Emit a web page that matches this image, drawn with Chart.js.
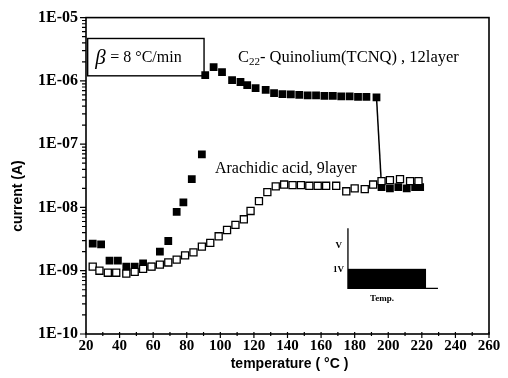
<!DOCTYPE html>
<html>
<head>
<meta charset="utf-8">
<script src="https://cdn.jsdelivr.net/npm/chart.js@4.4.0/dist/chart.umd.min.js"></script>
<style>
  html, body { margin: 0; padding: 0; background: #fff; }
  canvas { display: block; }
</style>
</head>
<body>
<canvas id="grafico" width="508" height="378"></canvas>
<script>
// ===========================
// DATOS
// ===========================
const tempAcido = [24, 28, 33, 38, 44, 49, 54, 59, 64, 69, 74, 79, 84, 89, 94, 99, 104, 109, 114, 118,
  123, 128, 133, 138, 143, 148, 153, 158, 163, 169, 175, 180, 186, 191, 196, 201, 207, 213, 218];
const corrienteAcido = [1.16e-9, 1.0e-9, 9.3e-10, 9.3e-10, 9.0e-10, 9.6e-10, 1.07e-9, 1.16e-9, 1.25e-9, 1.35e-9,
  1.5e-9, 1.75e-9, 1.95e-9, 2.4e-9, 2.75e-9, 3.5e-9, 4.4e-9, 5.3e-9, 6.5e-9, 8.8e-9,
  1.26e-8, 1.75e-8, 2.15e-8, 2.3e-8, 2.25e-8, 2.25e-8, 2.2e-8, 2.2e-8, 2.2e-8, 2.2e-8,
  1.8e-8, 2.0e-8, 1.95e-8, 2.3e-8, 2.6e-8, 2.7e-8, 2.8e-8, 2.6e-8, 2.6e-8];

const tempQuinolio = [24, 29, 34, 39, 44, 49, 54, 59, 64, 69, 74, 78, 83, 89,
  91, 96, 101, 107, 112, 116, 121, 127, 132, 137, 142, 147, 152, 157, 162, 167, 172, 177, 182, 187, 193,
  196, 201, 206, 211, 216, 219];
const corrienteQuinolio = [2.67e-9, 2.6e-9, 1.44e-9, 1.44e-9, 1.16e-9, 1.16e-9, 1.3e-9, 1.16e-9, 2.0e-9, 2.95e-9,
  8.5e-9, 1.2e-8, 2.8e-8, 6.9e-8,
  1.23e-6, 1.65e-6, 1.37e-6, 1.03e-6, 9.6e-7, 8.6e-7, 7.7e-7, 7.2e-7, 6.4e-7, 6.2e-7, 6.1e-7,
  6.0e-7, 5.9e-7, 5.9e-7, 5.8e-7, 5.8e-7, 5.7e-7, 5.7e-7, 5.6e-7, 5.6e-7, 5.5e-7,
  2.1e-8, 2.0e-8, 2.1e-8, 2.0e-8, 2.1e-8, 2.1e-8];

const ticksTemp = [20, 40, 60, 80, 100, 120, 140, 160, 180, 200, 220, 240, 260];
const decadasCorriente = [-10, -9, -8, -7, -6, -5];

// anotaciones (en unidades de datos)
const notas = {
  caja: { x0: 21, x1: 90.3, y0: -5.33, y1: -5.92 },
  beta: { x: 25.5, y: -5.64 },
  quinolio: { x: 110.5, y: -5.64 },
  acido: { x: 96.8, y: -7.39 },
  inserto: { x0: 176, x1: 222.5, x2: 229.6, yTop: -8.33, yV: -8.97, yBase: -9.28 }
};

const serif = "'Liberation Serif', 'Times New Roman', serif";
const sans = "'Liberation Sans', Arial, sans-serif";

// ===========================
// DECORACION: marco, ticks, textos
// ===========================
const decoracion = {
  id: "decoracion",
  afterDraw(chart) {
    const { ctx, chartArea: a, scales: { x, y } } = chart;
    const px = t => x.getPixelForValue(t);
    const py = e => y.getPixelForValue(Math.pow(10, e));

    ctx.save();
    ctx.strokeStyle = "#000";
    ctx.fillStyle = "#000";

    // marco
    ctx.lineWidth = 1.6;
    ctx.strokeRect(a.left, a.top, a.right - a.left, a.bottom - a.top);

    // ticks eje y (mayores y menores)
    ctx.lineWidth = 1.2;
    ctx.beginPath();
    decadasCorriente.forEach(e => {
      for (let m = 1; m <= 9; m++) {
        if (e === -5 && m > 1) break;
        const yy = y.getPixelForValue(m * Math.pow(10, e));
        const len = m === 1 ? 6 : 4;
        ctx.moveTo(a.left - len, yy);
        ctx.lineTo(a.left, yy);
      }
    });
    // ticks eje x
    for (let t = 20; t <= 260; t += 10) {
      const xx = px(t);
      const len = t % 20 === 0 ? 4 : 2;
      ctx.moveTo(xx, a.bottom + len);
      ctx.lineTo(xx, a.bottom - 2);
    }
    ctx.stroke();

    // caja beta
    const c = notas.caja;
    ctx.lineWidth = 1.4;
    ctx.strokeRect(px(c.x0), py(c.y0), px(c.x1) - px(c.x0), py(c.y1) - py(c.y0));
    ctx.textBaseline = "middle";
    ctx.textAlign = "left";
    ctx.font = "italic 21px " + serif;
    ctx.fillText("β", px(notas.beta.x), py(notas.beta.y));
    ctx.font = "16px " + serif;
    ctx.fillText("= 8 °C/min", px(notas.beta.x) + 15, py(notas.beta.y));

    // etiqueta quinolio con subindice
    let xq = px(notas.quinolio.x);
    const yq = py(notas.quinolio.y);
    ctx.font = "16.5px " + serif;
    ctx.fillText("C", xq, yq);
    xq += ctx.measureText("C").width;
    ctx.font = "11px " + serif;
    ctx.fillText("22", xq, yq + 4);
    xq += ctx.measureText("22").width;
    ctx.font = "16.5px " + serif;
    ctx.fillText("- Quinolium(TCNQ) , 12layer", xq, yq);

    // etiqueta acido
    ctx.font = "16px " + serif;
    ctx.fillText("Arachidic acid, 9layer", px(notas.acido.x), py(notas.acido.y));

    // inserto (forma del voltaje)
    const ins = notas.inserto;
    ctx.fillRect(px(ins.x0), py(ins.yV), px(ins.x1) - px(ins.x0), py(ins.yBase) - py(ins.yV));
    ctx.lineWidth = 1.3;
    ctx.beginPath();
    ctx.moveTo(px(ins.x0), py(ins.yTop));
    ctx.lineTo(px(ins.x0), py(ins.yBase));
    ctx.lineTo(px(ins.x2), py(ins.yBase));
    ctx.stroke();
    ctx.font = "bold 9px " + serif;
    ctx.textAlign = "right";
    ctx.fillText("V", px(ins.x0) - 6, py(-8.61));
    ctx.fillText("1V", px(ins.x0) - 4, py(-8.98));
    ctx.textAlign = "center";
    ctx.fillText("Temp.", px(196.3), py(-9.44));

    // titulos de ejes
    ctx.font = "bold 14px " + sans;
    ctx.textAlign = "center";
    ctx.fillText("temperature ( °C )", (a.left + a.right) / 2 + 2, 364);
    ctx.translate(18, 196);
    ctx.rotate(-Math.PI / 2);
    ctx.fillText("current (A)", 0, 0);
    ctx.restore();
  }
};

// ===========================
// GRAFICO
// ===========================
new Chart(document.getElementById("grafico"), {
  type: "scatter",
  data: {
    datasets: [
      {
        label: "Arachidic acid, 9layer",
        data: tempAcido.map((t, i) => ({ x: t, y: corrienteAcido[i] })),
        pointStyle: "rect",
        pointRadius: 5,
        pointBackgroundColor: "#fff",
        pointBorderColor: "#000",
        pointBorderWidth: 1.3,
        showLine: false
      },
      {
        label: "C22- Quinolium(TCNQ), 12layer",
        data: tempQuinolio.map((t, i) => ({ x: t, y: corrienteQuinolio[i] })),
        pointStyle: "rect",
        pointRadius: 5.5,
        pointBackgroundColor: "#000",
        pointBorderColor: "#000",
        pointBorderWidth: 0,
        showLine: true,
        borderColor: "#000",
        borderWidth: 1.5,
        segment: {
          borderColor: s => s.p1.parsed.y < s.p0.parsed.y / 10 ? "#000" : "rgba(0,0,0,0)"
        }
      }
    ]
  },
  options: {
    responsive: false,
    animation: false,
    devicePixelRatio: 1,
    layout: { padding: { top: 14, right: 19, left: 0, bottom: 0 } },
    plugins: { legend: { display: false }, tooltip: { enabled: false } },
    scales: {
      x: {
        type: "linear",
        min: 20,
        max: 260,
        afterBuildTicks: s => { s.ticks = ticksTemp.map(v => ({ value: v })); },
        ticks: { color: "#000", font: { family: serif, size: 15, weight: "bold" }, padding: 3, maxRotation: 0 },
        grid: { display: false, drawTicks: false },
        border: { display: false },
        afterFit: s => { s.height = 44; }
      },
      y: {
        type: "logarithmic",
        min: 1e-10,
        max: 1e-5,
        afterBuildTicks: s => { s.ticks = decadasCorriente.map(e => ({ value: Math.pow(10, e) })); },
        ticks: {
          color: "#000",
          font: { family: serif, size: 16, weight: "bold" },
          padding: 8,
          callback: v => "1E-" + String(-Math.round(Math.log10(v))).padStart(2, "0")
        },
        grid: { display: false, drawTicks: false },
        border: { display: false },
        afterFit: s => { s.width = 86; }
      }
    }
  },
  plugins: [decoracion]
});
</script>
</body>
</html>
